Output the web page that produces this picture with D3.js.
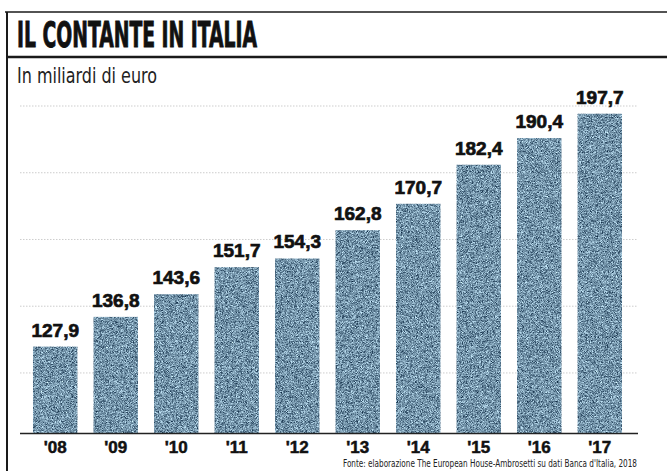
<!DOCTYPE html>
<html>
<head>
<meta charset="utf-8">
<script src="https://cdn.jsdelivr.net/npm/d3@7"></script>
<style>
  html, body { margin: 0; padding: 0; background: #fff; }
  svg { display: block; }
</style>
</head>
<body>
<svg id="chart" width="667" height="471"></svg>
<script>
// Contante in circolazione in Italia, miliardi di euro
const years = ["'08", "'09", "'10", "'11", "'12", "'13", "'14", "'15", "'16", "'17"];
const values = [127.9, 136.8, 143.6, 151.7, 154.3, 162.8, 170.7, 182.4, 190.4, 197.7];
const valueLabels = ["127,9", "136,8", "143,6", "151,7", "154,3", "162,8", "170,7", "182,4", "190,4", "197,7"];
const gridValues = [120, 140, 160, 180, 200];

const titleText = "IL CONTANTE IN ITALIA";
const subtitleText = "In miliardi di euro";
const sourceText = "Fonte: elaborazione The European House-Ambrosetti su dati Banca d'Italia, 2018";

const W = 667, H = 471;
const svg = d3.select("#chart");

// stippled print texture for the bars
const defs = svg.append("defs");
const grain = defs.append("filter")
  .attr("id", "grain")
  .attr("x", 0).attr("y", 0).attr("width", "100%").attr("height", "100%")
  .attr("color-interpolation-filters", "sRGB");
grain.append("feTurbulence")
  .attr("type", "fractalNoise")
  .attr("baseFrequency", 1.8)
  .attr("numOctaves", 1)
  .attr("seed", 7)
  .attr("result", "noise");
grain.append("feColorMatrix")
  .attr("in", "noise")
  .attr("type", "matrix")
  .attr("values",
    "1.30 0 0 0 -0.20 " +
    "1.35 0 0 0 -0.10 " +
    "1.30 0 0 0 0.01 " +
    "0 0 0 0 1")
  .attr("result", "tint");
grain.append("feComposite")
  .attr("in", "tint")
  .attr("in2", "SourceGraphic")
  .attr("operator", "in");

// frame
const frame = svg.append("g").attr("stroke", "#1a1a1a").attr("fill", "none");
frame.append("line").attr("x1", 5).attr("x2", W).attr("y1", 12).attr("y2", 12).attr("stroke-width", 1.5);
frame.append("line").attr("x1", 7).attr("x2", W).attr("y1", 57).attr("y2", 57).attr("stroke-width", 2.5);
frame.append("line").attr("x1", 7).attr("x2", 7).attr("y1", 12).attr("y2", H).attr("stroke-width", 2);

// title and subtitle
svg.append("text")
  .attr("x", 17).attr("y", 47)
  .attr("font-family", "'Liberation Sans Narrow', 'DejaVu Sans Condensed', 'Liberation Sans', sans-serif")
  .attr("font-weight", "bold")
  .attr("font-size", 35)
  .attr("fill", "#111")
  .attr("stroke", "#111").attr("stroke-width", 0.9)
  .attr("textLength", 240)
  .attr("lengthAdjust", "spacingAndGlyphs")
  .text(titleText);

svg.append("text")
  .attr("x", 17).attr("y", 83)
  .attr("font-family", "'Liberation Sans Narrow', 'DejaVu Sans Condensed', 'Liberation Sans', sans-serif")
  .attr("font-size", 21)
  .attr("fill", "#222")
  .attr("textLength", 140)
  .attr("lengthAdjust", "spacingAndGlyphs")
  .text(subtitleText);

// scales
const x = d3.scaleBand()
  .domain(years)
  .range([25, 630])
  .paddingInner(0.265)
  .paddingOuter(0.132);

const y = d3.scaleLinear()
  .domain([102, 200])
  .range([433, 106]);

// dotted gridlines
svg.append("g")
  .selectAll("line")
  .data(gridValues)
  .join("line")
  .attr("x1", 20).attr("x2", 638)
  .attr("y1", d => y(d)).attr("y2", d => y(d))
  .attr("stroke", "#cdcdcd")
  .attr("stroke-width", 1)
  .attr("stroke-dasharray", "1.5,1.5");

// bars
svg.append("g")
  .selectAll("rect")
  .data(values)
  .join("rect")
  .attr("x", (d, i) => x(years[i]))
  .attr("width", x.bandwidth())
  .attr("y", d => y(d))
  .attr("height", d => y.range()[0] - y(d))
  .attr("fill", "#5f7f96")
  .attr("filter", "url(#grain)");

// value labels
svg.append("g")
  .selectAll("text")
  .data(values)
  .join("text")
  .attr("x", (d, i) => x(years[i]) + x.bandwidth() / 2)
  .attr("y", d => y(d) - 10)
  .attr("text-anchor", "middle")
  .attr("font-family", "'Liberation Sans', Arial, sans-serif")
  .attr("font-weight", "bold")
  .attr("font-size", 19)
  .attr("fill", "#111")
  .attr("stroke", "#111").attr("stroke-width", 0.7)
  .text((d, i) => valueLabels[i]);

// baseline and year axis
const xAxis = svg.append("g")
  .attr("transform", `translate(0,${y.range()[0]})`)
  .call(d3.axisBottom(x).tickSize(0).tickPadding(20));
xAxis.select(".domain").remove();
xAxis.append("line")
  .attr("x1", 20).attr("x2", 638)
  .attr("y1", 0.5).attr("y2", 0.5)
  .attr("stroke", "#222").attr("stroke-width", 1.6);
xAxis.selectAll(".tick text")
  .attr("dy", 0)
  .attr("y", 20)
  .attr("font-family", "'Liberation Sans', Arial, sans-serif")
  .attr("font-weight", "bold")
  .attr("font-size", 17)
  .attr("fill", "#111")
  .attr("stroke", "#111").attr("stroke-width", 0.5);

// source note
svg.append("text")
  .attr("x", 343).attr("y", 467)
  .attr("font-family", "'Liberation Sans Narrow', 'DejaVu Sans Condensed', 'Liberation Sans', sans-serif")
  .attr("font-size", 11)
  .attr("fill", "#222")
  .attr("textLength", 294)
  .attr("lengthAdjust", "spacingAndGlyphs")
  .text(sourceText);
</script>
</body>
</html>
